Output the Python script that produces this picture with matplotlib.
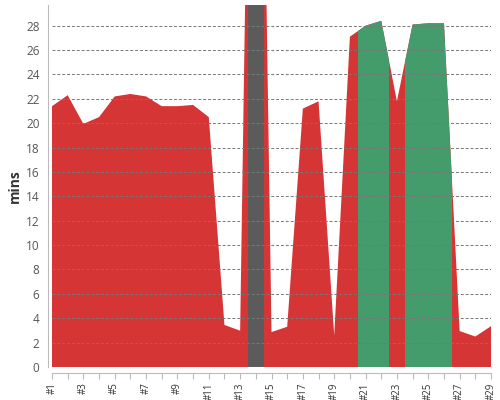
import matplotlib
matplotlib.use("Agg")
import matplotlib.pyplot as plt
from matplotlib.patches import Rectangle
import numpy as np

labels = ["#%d" % i for i in range(1, 30)]
values = [21.4, 22.3, 19.95, 20.5, 22.2, 22.4, 22.2, 21.4, 21.4, 21.5,
          20.5, 3.45, 2.98, 88.0, 2.87, 3.3, 21.2, 21.8, 2.6, 27.1,
          28.0, 28.4, 21.8, 28.1, 28.2, 28.2, 2.95, 2.5, 3.35]
# highlighted ranges (index of first/last point, colour)
bands = [(13, 13, "#5b5b5b"), (20, 21, "#449b6b"), (23, 25, "#449b6b")]

red = "#d63536"
ymax = 29.7

plt.rcParams['font.family'] = ['Open Sans', 'DejaVu Sans']
fig = plt.figure(figsize=(5, 4), dpi=100)
ax = fig.add_axes([0.104, 0.0825, 0.878, 0.905])

x = np.arange(len(values))
ax.fill_between(x, 0, values, color=red, lw=0, zorder=2)
for i0, i1, col in bands:
    poly = ax.fill_between(x, 0, values, color=col, lw=0, zorder=3)
    rect = Rectangle((i0 - 0.5, 0), i1 - i0 + 1, ymax, transform=ax.transData,
                     facecolor='none', edgecolor='none')
    poly.set_clip_path(rect)

ax.set_xlim(0, len(values) - 1)
ax.set_ylim(0, ymax)
ax.set_yticks(np.arange(0, 29, 2))
ax.set_xticks(x)
ax.set_xticklabels([l if i % 2 == 0 else "" for i, l in enumerate(labels)])
ax.tick_params(axis='y', length=0, labelsize=8.5, labelcolor="#555555", pad=6)
ax.tick_params(axis='x', length=4, color="#bbbbbb", width=0.8, pad=2.5,
               labelrotation=90, labelsize=7, labelcolor="#333333")
for yv in np.arange(2, 29, 2):
    ax.axhline(yv, color="#777777", lw=0.7, ls=(0, (3, 2)), zorder=4)

for s in ["top", "right"]:
    ax.spines[s].set_visible(False)
ax.spines["left"].set_position(("outward", 3))
ax.spines["bottom"].set_position(("outward", 4.5))
ax.spines["left"].set_color("#bbbbbb")
ax.spines["bottom"].set_color("#bbbbbb")
ax.set_ylabel("mins", fontsize=10, fontweight="bold", color="#333333", labelpad=3)

fig.savefig("out.png", dpi=100)
